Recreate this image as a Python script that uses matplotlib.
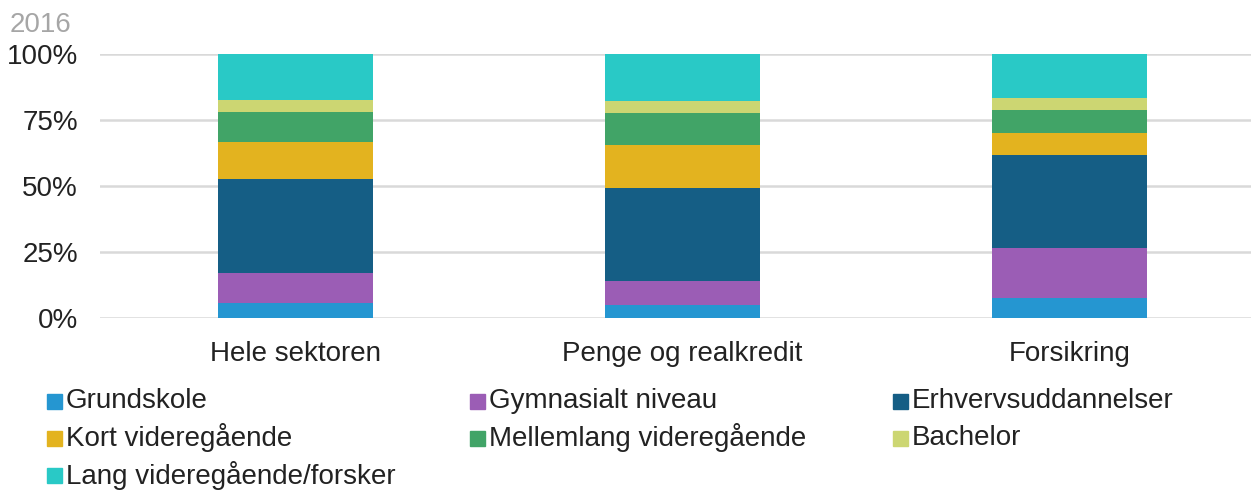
import matplotlib.pyplot as plt
from matplotlib.patches import Rectangle
import numpy as np

plt.rcParams['font.family'] = ['Liberation Sans', 'DejaVu Sans']

categories = ['Hele sektoren', 'Penge og realkredit', 'Forsikring']
levels = ['Grundskole', 'Gymnasialt niveau', 'Erhvervsuddannelser',
          'Kort videregående', 'Mellemlang videregående', 'Bachelor',
          'Lang videregående/forsker']
# shares in percent, one list per education level (Hele, Penge, Forsikring)
grundskole = [5.6, 4.9, 7.5]
gymnasial = [11.6, 9.0, 19.0]
erhverv = [35.3, 35.4, 35.4]
kort = [14.1, 16.2, 8.1]
mellemlang = [11.4, 12.0, 8.8]
bachelor = [4.6, 4.7, 4.6]
lang = [17.4, 17.8, 16.6]
series = [grundskole, gymnasial, erhverv, kort, mellemlang, bachelor, lang]
colors = ['#2596d1', '#9b5db5', '#155e85', '#e3b31f', '#41a467', '#ccd672', '#29c9c6']

fs = 20
fig = plt.figure(figsize=(12.51, 4.9), dpi=100)
ax = fig.add_axes([100 / 1251, 1 - 318 / 490, 1151 / 1251, 264 / 490])

x = np.arange(len(categories))
bottom = np.zeros(len(categories))
for vals, c in zip(series, colors):
    ax.bar(x, vals, width=0.4, bottom=bottom, color=c, linewidth=0, zorder=2)
    bottom += np.array(vals)

ax.set_xlim(-0.505, 2.469)
ax.set_ylim(0, 100)
ax.set_yticks([0, 25, 50, 75, 100])
ax.set_yticklabels(['0%', '25%', '50%', '75%', '100%'], fontsize=fs, color='#222222')
ax.set_xticks(x)
ax.set_xticklabels(categories, fontsize=fs, color='#222222')
ax.tick_params(length=0)
ax.tick_params(axis='x', pad=16.5)
ax.tick_params(axis='y', pad=16)
ax.grid(axis='y', color='#d9d9d9', linewidth=1.8, zorder=0)
for s in ax.spines.values():
    s.set_visible(False)

fig.text(10 / 1251, 1 - 25 / 490, '2016', fontsize=fs, color='#a6a6a6', va='center')

# legend, row-major in three columns
for i, (lab, c) in enumerate(zip(levels, colors)):
    col, row = i % 3, i // 3
    x0 = 47 + col * 423
    y0 = 401 + row * 37
    fig.add_artist(Rectangle((x0 / 1251, 1 - (y0 + 7.5) / 490), 15 / 1251, 15 / 490,
                             transform=fig.transFigure, color=c))
    fig.text((x0 + 19) / 1251, 1 - y0 / 490, lab, fontsize=fs, color='#222222', va='center')

fig.savefig('out.png', dpi=100)
